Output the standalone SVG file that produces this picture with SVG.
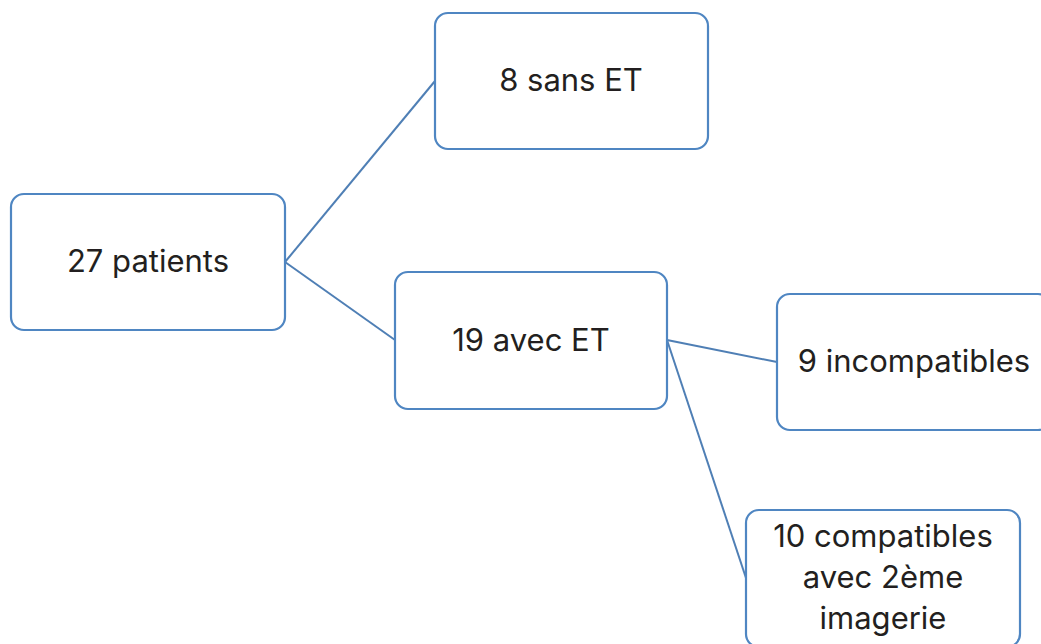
<svg xmlns="http://www.w3.org/2000/svg" width="1041" height="644" viewBox="0 0 1041 644">
<style>
.box{fill:#ffffff;stroke:#4f86c2;stroke-width:2.2}
.lbl{font-family:Inter,"Liberation Sans",sans-serif;font-size:31px;fill:#231f20;text-anchor:middle}
.conn{stroke:#4f7fb5;stroke-width:2;fill:none}
</style>
<rect width="1041" height="644" fill="#ffffff"/>
<g id="connectors">
<line class="conn" x1="285" y1="262" x2="435" y2="81"/>
<line class="conn" x1="285" y1="262" x2="395" y2="340"/>
<line class="conn" x1="667" y1="340" x2="777" y2="362"/>
<line class="conn" x1="667" y1="340" x2="746" y2="578"/>
</g>
<g id="n1"><rect class="box" x="11" y="194" width="274" height="136" rx="13"/><text class="lbl" x="148" y="272">27 patients</text></g>
<g id="n2"><rect class="box" x="435" y="13" width="273" height="136" rx="13"/><text class="lbl" x="571" y="91">8 sans ET</text></g>
<g id="n3"><rect class="box" x="395" y="272" width="272" height="137" rx="13"/><text class="lbl" x="531" y="351">19 avec ET</text></g>
<g id="n4"><rect class="box" x="777" y="294" width="274" height="136" rx="13"/><text class="lbl" x="914" y="372">9 incompatibles</text></g>
<g id="n5"><rect class="box" x="746" y="510" width="274" height="137" rx="13"/><text class="lbl" x="883" y="547">10 compatibles</text><text class="lbl" x="883" y="588">avec 2ème</text><text class="lbl" x="883" y="629">imagerie</text></g>
</svg>
